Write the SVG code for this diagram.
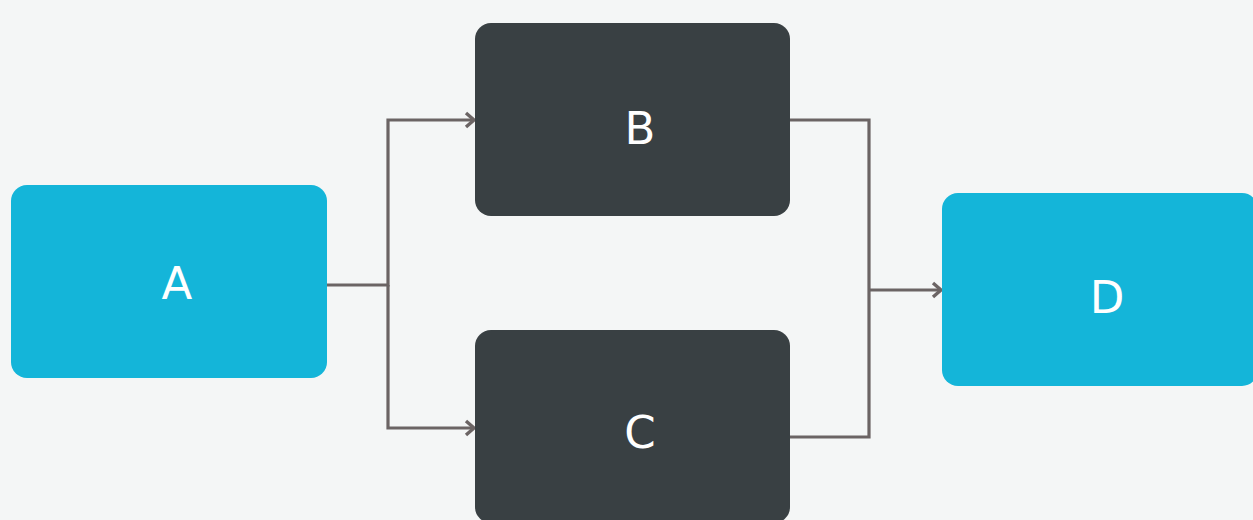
<svg xmlns="http://www.w3.org/2000/svg" width="1253" height="520" viewBox="0 0 1253 520">
<style>
.cy{fill:#14b5d9}
.dk{fill:#394043}
.lb{fill:#ffffff;font-family:"DejaVu Sans",sans-serif;font-size:45px;text-anchor:middle}
.ln{fill:none;stroke:#6b6464;stroke-width:3.2}
</style>
<defs>
<marker id="ar" markerWidth="14" markerHeight="18" refX="11" refY="9" orient="auto" markerUnits="userSpaceOnUse">
<path d="M3,2 L11,9 L3,16" fill="none" stroke="#6b6464" stroke-width="3.4"/>
</marker>
</defs>
<rect width="1253" height="520" fill="#f4f6f6"/>
<g id="connectors">
<path class="ln" d="M327,285 H388 V120 H474" marker-end="url(#ar)"/>
<path class="ln" d="M388,285 V428 H474" marker-end="url(#ar)"/>
<path class="ln" d="M790,120 H869 V437 H790"/>
<path class="ln" d="M869,290 H941" marker-end="url(#ar)"/>
</g>
<g id="A"><rect class="cy" x="11" y="185" width="316" height="193" rx="16"/><text class="lb" x="177" y="299">A</text></g>
<g id="B"><rect class="dk" x="475" y="23" width="315" height="193" rx="16"/><text class="lb" x="640" y="144">B</text></g>
<g id="C"><rect class="dk" x="475" y="330" width="315" height="193" rx="16"/><text class="lb" x="640" y="448">C</text></g>
<g id="D"><rect class="cy" x="942" y="193" width="316" height="193" rx="16"/><text class="lb" x="1107" y="313">D</text></g>
</svg>
